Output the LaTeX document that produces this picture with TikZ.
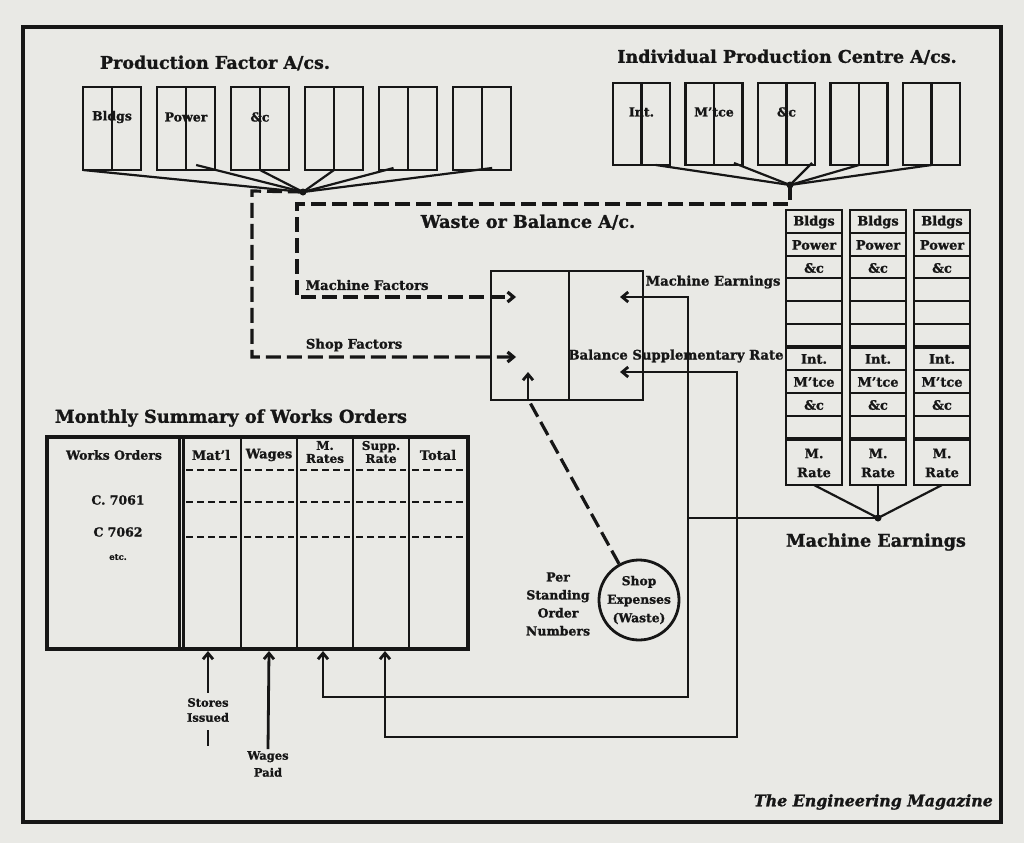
\documentclass[tikz,border=0pt]{standalone}
\usepackage{fontspec}
\setmainfont{DejaVu Serif}[BoldFeatures={FakeBold=1.2},BoldItalicFeatures={FakeBold=1.2}]
\usetikzlibrary{arrows.meta,calc}
\definecolor{paper}{RGB}{233,233,229}
\definecolor{ink}{RGB}{22,22,22}
\begin{document}
\begin{tikzpicture}[x=1pt,y=-1pt,
  ln/.style={draw=ink,line width=2.8pt},
  thin/.style={draw=ink,line width=2.2pt},
  box/.style={draw=ink,line width=2.8pt,inner sep=0pt,outer sep=0pt,anchor=north west},
  dsh/.style={draw=ink,line width=3.2pt,dash pattern=on 15pt off 6pt},
  rowdash/.style={draw=ink,line width=2.4pt,dash pattern=on 7pt off 4pt},
  tip/.style={-{Straight Barb[length=6pt,width=10pt]}},
  tips/.style={{Straight Barb[length=6pt,width=10pt]}-{Straight Barb[length=6pt,width=10pt]}},
  title/.style={font=\bfseries\fontsize{17.5}{20}\selectfont,text=ink,inner sep=0pt},
  big/.style={font=\bfseries\fontsize{17.6}{20}\selectfont,text=ink,inner sep=0pt},
  lbl/.style={font=\bfseries\fontsize{13.2}{15}\selectfont,text=ink,inner sep=0pt,align=center},
  cell/.style={font=\bfseries\fontsize{13}{15}\selectfont,text=ink,inner sep=0pt,align=center},
  sml/.style={font=\bfseries\fontsize{12.5}{14}\selectfont,text=ink,inner sep=0pt,align=center},
  jn/.style={fill=ink}
]
\useasboundingbox (0,0) rectangle (1024,843);
\fill[paper] (0,0) rectangle (1024,843);
\draw[ink,line width=4.5pt] (23,27) rectangle (1001,822);

% ---------- titles
\node[title] (tpf) at (215,63) {Production Factor A/cs.};
\node[title] (tipc) at (787,57) {Individual Production Centre A/cs.};

% ---------- production factor boxes
\foreach \i in {0,...,5}{
  \pgfmathsetmacro\xx{83+74*\i}
  \node[box,minimum width=58pt,minimum height=83pt] (pf\i) at (\xx,87) {};
  \draw[ln] (pf\i.north) -- (pf\i.south);
}
\node[sml] (lpf0) at ($(pf0.north)+(0,30)$) {Bldgs};
\node[sml] (lpf1) at ($(pf1.north)+(0,30)$) {Power};
\node[sml] (lpf2) at ($(pf2.north)+(0,30)$) {\&c};

% ---------- individual production centre boxes
\foreach \i in {0,...,4}{
  \pgfmathsetmacro\xx{613+72.5*\i}
  \node[box,minimum width=57pt,minimum height=82pt] (ipc\i) at (\xx,83) {};
  \draw[ln] (ipc\i.north) -- (ipc\i.south);
}
\node[sml] (lipc0) at ($(ipc0.north)+(0,29)$) {Int.};
\node[sml] (lipc1) at ($(ipc1.north)+(0,29)$) {M'tce};
\node[sml] (lipc2) at ($(ipc2.north)+(0,29)$) {\&c};

% ---------- junctions at top
\coordinate (jpf) at (303,192);
\coordinate (jipc) at (790,185);
\draw[thin] (pf0.south west) -- (jpf);
\draw[thin] ($(pf1.south)!0.35!(pf1.south east)+(0,-5)$) -- (jpf);
\draw[thin] (pf2.south) -- (jpf);
\draw[thin] (pf3.south) -- (jpf);
\draw[thin] ($(pf4.south)!0.5!(pf4.south west)+(0,-2)$) -- (jpf);
\draw[thin] ($(pf5.south)!0.35!(pf5.south east)+(0,-2)$) -- (jpf);
\fill[jn] (jpf) circle (3.5pt);

\draw[thin] ($(ipc0.south)!0.5!(ipc0.south east)$) -- (jipc);
\draw[thin] ($(ipc1.south)!0.7!(ipc1.south east)+(0,-2)$) -- (jipc);
\draw[thin] ($(ipc2.south east)+(-3,-2)$) -- (jipc);
\draw[thin] (ipc3.south) -- (jipc);
\draw[thin] (ipc4.south) -- (jipc);
\fill[jn] (jipc) circle (3.5pt);

% ---------- waste or balance account
\node[big] (twb) at (528,222) {Waste or Balance A/c.};
\node[box,minimum width=152pt,minimum height=129pt] (bal) at (491,271) {};
\draw[ln] ($(bal.north west)+(78,0)$) -- ($(bal.south west)+(78,0)$);

\coordinate (amf) at (516,297);
\coordinate (asf) at (516,357);
\draw[dsh,tip] (jpf) -- (252,191) -- (252,357) -- (asf);
\draw[dsh,tip] (jipc) -- (790,204) -- (297,204) -- (297,297) -- (amf);
\node[lbl] (tmf) at (367,285) {Machine Factors};
\node[lbl] (tsf) at (354,345) {Shop Factors};

% ---------- right columns
\foreach \i/\xx in {0/786,1/850,2/914}{
  \node[box,minimum width=56pt,minimum height=275pt] (mc\i) at (\xx,210) {};
  \foreach \yy in {233,256,278,301,324,370,393,416}
    \draw[thin] (\xx,\yy) -- ++(56,0);
  \foreach \yy in {347,439}
    \draw[ink,line width=3.8pt] (\xx,\yy) -- ++(56,0);
  \node[cell] at ({\xx+28},222) {Bldgs};
  \node[cell] at ({\xx+28},245) {Power};
  \node[cell] at ({\xx+28},268) {\&c};
  \node[cell] at ({\xx+28},359) {Int.};
  \node[cell] at ({\xx+28},382) {M'tce};
  \node[cell] at ({\xx+28},405) {\&c};
  \node[cell,font=\bfseries\fontsize{13}{19}\selectfont] at ({\xx+28},463) {M.\\Rate};
}
\coordinate (jme) at (878,518);
\draw[thin] (mc0.south) -- (jme);
\draw[thin] (mc1.south) -- (jme);
\draw[thin] (mc2.south) -- (jme);
\fill[jn] (jme) circle (3.5pt);
\node[big] (tme) at (876,542) {Machine Earnings};

% ---------- table
\node[big,font=\bfseries\fontsize{17.8}{20}\selectfont] (tms) at (231,418) {Monthly Summary of Works Orders};
\node[box,line width=3.2pt,minimum width=421pt,minimum height=212pt] (tab) at (47,437) {};
\draw[thin] (179.5,437) -- (179.5,649);
\draw[thin] (183.5,437) -- (183.5,649);
\foreach \xx in {241,297,353,409} \draw[ln] (\xx,437) -- (\xx,649);
\foreach \yy in {470,502,537}{
  \foreach \a/\b in {186/238,244/294,300/350,356/406,412/465}
    \draw[rowdash] (\a,\yy) -- (\b,\yy);
}
\node[sml] (hwo) at (114,455) {Works Orders};
\node[sml,font=\bfseries\fontsize{13}{15}\selectfont] (hma) at (211,455) {Mat'l};
\node[sml,font=\bfseries\fontsize{13}{15}\selectfont] (hwa) at (269,455) {Wages};
\node[sml,font=\bfseries\fontsize{12}{13}\selectfont] (hmr) at (325,452) {M.\\Rates};
\node[sml,font=\bfseries\fontsize{12}{13}\selectfont] (hsr) at (381,452) {Supp.\\Rate};
\node[sml,font=\bfseries\fontsize{13}{15}\selectfont] (hto) at (438,455) {Total};
\node[sml] (c61) at (118,500) {C. 7061};
\node[sml] (c62) at (118,532) {C 7062};
\node[sml,font=\bfseries\fontsize{8.5}{9}\selectfont] (cet) at (118,557) {etc.};

% ---------- arrows into the table
\coordinate (tb1) at (208,651);
\coordinate (tb2) at (269,651);
\coordinate (tb3) at (323,651);
\coordinate (tb4) at (385,651);
\node[sml,font=\bfseries\fontsize{11.5}{15}\selectfont] (tsi) at (208,710) {Stores\\Issued};
\draw[ln,tip] ($(tsi.north)+(0,-5)$) -- (tb1);
\draw[ln] ($(tsi.south)+(0,8)$) -- ++(0,16);
\node[sml,font=\bfseries\fontsize{11.5}{17}\selectfont] (twp) at (268,764) {Wages\\Paid};
\draw[ln,tip] ($(twp.north)+(0,-2)$) -- (tb2);

% ---------- machine earnings / supplementary rate loops
\coordinate (ame) at (620,297);
\coordinate (abs) at (620,372);
\node[lbl] (tmeu) at (713,282) {Machine Earnings};
\node[lbl] (tbsr) at (676,356) {Balance Supplementary Rate};
\draw[ln,tips] (ame) -- (688,297) -- (688,697) -- (323,697) -- (tb3);
\draw[ln,tips] (abs) -- (737,372) -- (737,737) -- (385,737) -- (tb4);
\draw[ln] (jme) -- (688,518);

% ---------- shop expenses
\node[circle,draw=ink,line width=2.8pt,minimum size=75pt,inner sep=0pt,text=ink,align=center,
      font=\bfseries\fontsize{12.3}{18.5}\selectfont] (circ) at (639,600) {Shop\\Expenses\\(Waste)};
\coordinate (bb) at (528,399);
\coordinate (aup) at (528,372);
\draw[dsh] (circ) -- (bb);
\draw[ln,tip] (bb) -- (aup);
\node[lbl,font=\bfseries\fontsize{12.5}{18}\selectfont] (tps) at (558,604) {Per\\Standing\\Order\\Numbers};

% ---------- credit
\node[text=ink,inner sep=0pt,anchor=east,font=\bfseries\itshape\fontsize{15.8}{18}\selectfont] (credit) at (993,802) {The Engineering Magazine};
\end{tikzpicture}
\end{document}
